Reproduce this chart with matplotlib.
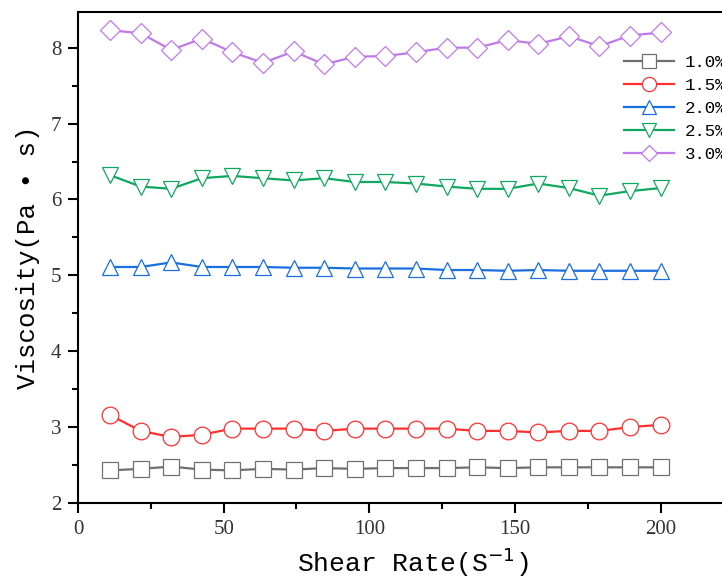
import matplotlib.pyplot as plt
from matplotlib.ticker import MultipleLocator

# shear rate points (S^-1)
shear_rate = [11, 21.5, 32, 42.5, 53, 63.5, 74, 84.5, 95, 105.5,
              116, 126.5, 137, 147.5, 158, 168.5, 179, 189.5, 200]

# viscosity (Pa*s) for each concentration
visc_10 = [2.43, 2.45, 2.48, 2.44, 2.43, 2.45, 2.44, 2.46, 2.45, 2.46,
           2.46, 2.46, 2.47, 2.46, 2.47, 2.47, 2.47, 2.47, 2.47]
visc_15 = [3.16, 2.95, 2.87, 2.90, 2.98, 2.98, 2.98, 2.95, 2.98, 2.98,
           2.98, 2.98, 2.95, 2.95, 2.93, 2.95, 2.95, 3.00, 3.03]
visc_20 = [5.11, 5.11, 5.17, 5.11, 5.11, 5.11, 5.10, 5.10, 5.09, 5.09,
           5.09, 5.07, 5.07, 5.06, 5.07, 5.06, 5.06, 5.06, 5.06]
visc_25 = [6.32, 6.17, 6.14, 6.28, 6.31, 6.28, 6.25, 6.28, 6.23, 6.23,
           6.21, 6.17, 6.14, 6.14, 6.21, 6.15, 6.05, 6.11, 6.15]
visc_30 = [8.23, 8.19, 7.97, 8.12, 7.94, 7.80, 7.95, 7.78, 7.88, 7.89,
           7.94, 8.00, 8.00, 8.10, 8.05, 8.15, 8.02, 8.16, 8.20]

labels = ["1.0%", "1.5%", "2.0%", "2.5%", "3.0%"]
colors = ["#707070", "#ff3030", "#1a6fe0", "#10a860", "#c07ae8"]
markers = ["s", "o", "^", "v", "D"]
sizes = [11.5, 12, 12, 12, 10]

fig = plt.figure(figsize=(7.22, 5.8), dpi=100)
ax = fig.add_axes([78 / 722, 77 / 580, 670 / 722, 491 / 580])

series = [visc_10, visc_15, visc_20, visc_25, visc_30]
for y, lab, c, m, s in zip(series, labels, colors, markers, sizes):
    ax.plot(shear_rate, y, color=c, lw=1.6, marker=m, ms=s,
            mfc="white", mec=c, mew=0.9, label=lab)

ax.set_xlim(0, 230)
ax.set_ylim(2, 8.47)
ax.xaxis.set_major_locator(MultipleLocator(50))
ax.xaxis.set_minor_locator(MultipleLocator(25))
ax.yaxis.set_major_locator(MultipleLocator(1))
ax.yaxis.set_minor_locator(MultipleLocator(0.5))
ax.tick_params(which="both", direction="out", width=1.5)
ax.tick_params(which="major", length=7, labelsize=15, pad=5)
ax.tick_params(which="minor", length=4.5)
for lbl in ax.get_xticklabels() + ax.get_yticklabels():
    lbl.set_family("Liberation Serif")
    lbl.set_color("#333333")
for sp in ax.spines.values():
    sp.set_linewidth(1.5)

ax.set_xlabel("Shear Rate(S$^{-1}$)", family="Liberation Mono",
              fontsize=19, labelpad=5)
ax.set_ylabel("Viscosity(Pa • s)", family="Liberation Mono",
              fontsize=18.5, labelpad=8)

ax.legend(loc="upper left", bbox_to_anchor=(624 / 722, 1 - 55 / 580),
          bbox_transform=fig.transFigure, frameon=False, borderpad=0,
          borderaxespad=0, handlelength=2.9, handletextpad=0.6,
          labelspacing=0.45, markerscale=0.85,
          prop={"family": "Liberation Mono", "size": 12.5})

fig.savefig("out.png", dpi=100)
